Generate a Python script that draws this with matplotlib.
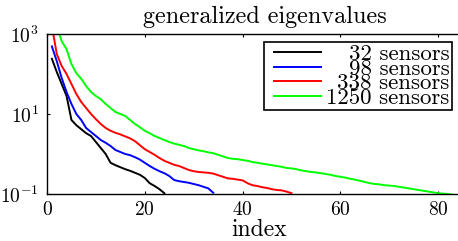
import matplotlib
matplotlib.use("Agg")
import matplotlib.pyplot as plt
from matplotlib.lines import Line2D
from matplotlib.legend_handler import HandlerLine2D
import numpy as np

plt.rcParams["font.family"] = "serif"
plt.rcParams["font.serif"] = ["cmr10"]
plt.rcParams["mathtext.fontset"] = "cm"
plt.rcParams["axes.formatter.use_mathtext"] = True

labels = ["32 sensors", "98 sensors", "338 sensors", "1250 sensors"]
colors = ["black", "blue", "red", "lime"]

# log10 of the generalized eigenvalues (index starts at 1)
log_32 = [2.38, 2.05, 1.75, 1.45, 0.85, 0.72, 0.62, 0.52, 0.45, 0.30,
          0.15, 0.00, -0.22, -0.28, -0.33, -0.38, -0.42, -0.47, -0.52, -0.60,
          -0.73, -0.80, -0.88, -0.98]

log_98 = [2.69, 2.32, 1.90, 1.55, 1.25, 1.00, 0.85, 0.65, 0.55, 0.45,
          0.35, 0.28, 0.20, 0.10, 0.05, 0.00, -0.03, -0.08, -0.14, -0.22,
          -0.30, -0.37, -0.43, -0.48, -0.55, -0.65, -0.68, -0.70, -0.72, -0.75,
          -0.78, -0.82, -0.86, -0.97]

log_338 = [3.20, 2.50, 2.20, 2.00, 1.75, 1.50, 1.30, 1.15, 1.00, 0.87,
           0.75, 0.65, 0.58, 0.53, 0.49, 0.44, 0.39, 0.32, 0.22, 0.12,
           0.05, -0.02, -0.10, -0.17, -0.22, -0.27, -0.30, -0.35, -0.40, -0.43,
           -0.45, -0.46, -0.47, -0.49, -0.53, -0.57, -0.61, -0.62, -0.64, -0.66,
           -0.73, -0.78, -0.80, -0.83, -0.85, -0.88, -0.90, -0.91, -0.94, -0.98]

log_1250 = [3.60, 3.20, 2.82, 2.62, 2.25, 2.02, 1.88, 1.70, 1.55, 1.45,
            1.37, 1.25, 1.15, 1.05, 1.00, 0.95, 0.85, 0.75, 0.67, 0.58,
            0.52, 0.45, 0.40, 0.35, 0.30, 0.26, 0.23, 0.20, 0.15, 0.12,
            0.09, 0.07, 0.04, 0.02, -0.02, -0.06, -0.10, -0.12, -0.13, -0.15,
            -0.17, -0.20, -0.22, -0.24, -0.26, -0.28, -0.30, -0.32, -0.35, -0.36,
            -0.38, -0.41, -0.43, -0.45, -0.46, -0.48, -0.50, -0.52, -0.55, -0.57,
            -0.59, -0.62, -0.64, -0.67, -0.70, -0.73, -0.75, -0.76, -0.78, -0.79,
            -0.80, -0.82, -0.84, -0.86, -0.88, -0.90, -0.92, -0.94, -0.96, -0.98,
            -0.99, -1.00, -1.02]

series = [log_32, log_98, log_338, log_1250]

fig = plt.figure(figsize=(4.58, 2.41), dpi=100)
# axes runs past the right edge of the picture (cropped like the original)
ax = fig.add_axes([47 / 458, 1 - 194 / 241, 420 / 458, 160 / 241])

for vals, lab, col in zip(series, labels, colors):
    idx = np.arange(1, len(vals) + 1)
    ax.semilogy(idx, 10.0 ** np.array(vals), color=col, lw=1.4, label=lab)

ax.set_xlim(0, 420 / 4.89)
ax.set_ylim(0.1, 1000)
ax.set_xticks([0, 20, 40, 60, 80])
ax.set_yticks([0.1, 10, 1000])
ax.minorticks_off()
ax.tick_params(direction="in", length=2.5, width=0.8, labelsize=14, top=True, right=True)
ax.tick_params(axis="x", pad=5)
ax.tick_params(axis="y", pad=6)
for s in ax.spines.values():
    s.set_linewidth(1.0)

fig.text(0.578, 1 - 22.5 / 241, "generalized eigenvalues", ha="center", va="baseline", fontsize=17.4)
fig.text(259 / 458, 1 - 236 / 241, "index", ha="center", va="baseline", fontsize=17)

leg = ax.legend(loc="upper right", bbox_to_anchor=(452 / 458, 1 - 42 / 241),
                bbox_transform=fig.transFigure, borderaxespad=0, fontsize=16.5,
                fancybox=False, edgecolor="black", framealpha=1, numpoints=2,
                handler_map={Line2D: HandlerLine2D(marker_pad=0.35)},
                handlelength=2.75, handletextpad=-0.13, labelspacing=-0.24, borderpad=0.1)
leg.get_frame().set_linewidth(1.2)

# right-align the legend labels
fig.canvas.draw()
texts = leg.get_texts()
widths = [t.get_window_extent().width for t in texts]
for t, w in zip(texts, widths):
    t.set_x(max(widths) - w)

fig.savefig("out.png", dpi=100)
